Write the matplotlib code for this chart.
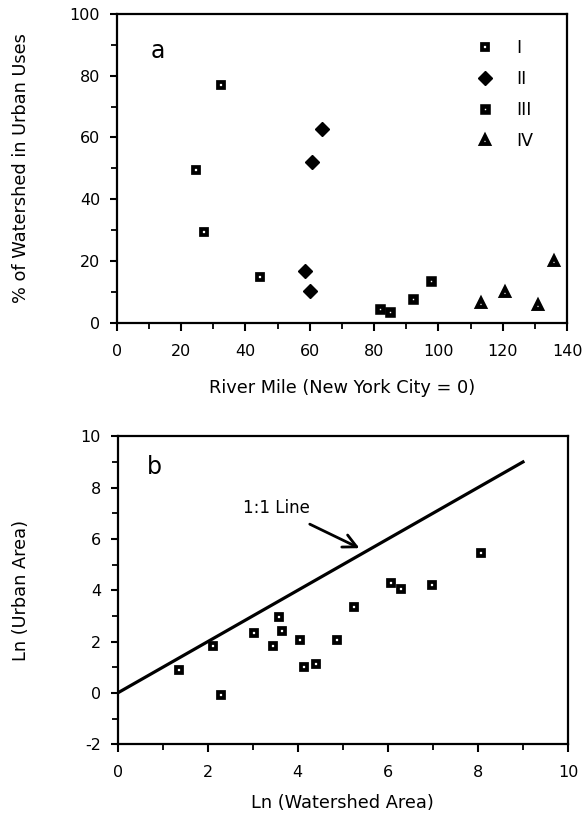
import numpy as np
import matplotlib.pyplot as plt
from matplotlib.ticker import MultipleLocator

plt.rcParams['font.family'] = ['DejaVu Sans']
plt.rcParams['axes.unicode_minus'] = False

# panel a: river mile vs % of watershed in urban uses
mile_1 = [24.6, 27.1, 32.5, 44.4]
urban_1 = [49.5, 29.3, 77.0, 14.9]
mile_2 = [58.6, 60.2, 60.6, 63.9]
urban_2 = [16.9, 10.3, 52.2, 62.6]
mile_3 = [82.0, 85.1, 92.0, 97.8]
urban_3 = [4.4, 3.6, 7.7, 13.5]
mile_4 = [113.1, 120.7, 131.0, 135.8]
urban_4 = [6.3, 9.8, 5.8, 20.0]

# panel b: ln watershed area vs ln urban area
ln_watershed = [1.37, 2.12, 2.30, 3.03, 3.44, 3.59, 3.64, 4.04, 4.14, 4.41,
                4.87, 5.25, 6.07, 6.30, 6.97, 8.07]
ln_urban = [0.89, 1.83, -0.07, 2.32, 1.83, 2.94, 2.40, 2.06, 1.02, 1.11,
            2.06, 3.35, 4.29, 4.06, 4.20, 5.46]
one_to_one = [0, 9]


def style_axes(ax):
    for s in ax.spines.values():
        s.set_linewidth(1.6)
    ax.tick_params(which='major', direction='out', length=5, width=1.5,
                   labelsize=11.5)
    ax.tick_params(which='minor', direction='out', length=4, width=1.3)
    ax.tick_params(axis='x', which='major', length=6, pad=9)
    ax.tick_params(axis='y', which='major', pad=7)


fig = plt.figure(figsize=(5.84, 8.17), dpi=100)

# ---- panel a
ax1 = fig.add_axes([0.1998, 0.605, 0.7712, 0.378])
ax1.plot(mile_1, urban_1, ls='none', marker='s', ms=4.9, mfc='white',
         mec='black', mew=2.7, label='I')
ax1.plot(mile_2, urban_2, ls='none', marker='D', ms=7, color='black',
         label='II')
ax1.plot(mile_3, urban_3, ls='none', marker='s', ms=4.5, mfc='white',
         mec='black', mew=3.3, label='III')
ax1.plot(mile_4, urban_4, ls='none', marker='^', ms=5.5, mfc='white',
         mec='black', mew=2.8, label='IV')
ax1.set_xlim(0, 140)
ax1.set_ylim(0, 100)
ax1.xaxis.set_major_locator(MultipleLocator(20))
ax1.xaxis.set_minor_locator(MultipleLocator(10))
ax1.yaxis.set_major_locator(MultipleLocator(20))
ax1.yaxis.set_minor_locator(MultipleLocator(10))
style_axes(ax1)
ax1.set_xlabel('River Mile (New York City = 0)', fontsize=12.8)
ax1.set_ylabel('% of Watershed in Urban Uses', fontsize=12.8)
ax1.xaxis.set_label_coords(0.5, -0.182)
ax1.yaxis.set_label_coords(-0.193, 0.5)
ax1.text(0.075, 0.88, 'a', transform=ax1.transAxes, fontsize=17,
         va='center', ha='left')
ax1.legend(loc='upper right', frameon=False, fontsize=12.5,
           handletextpad=1.3, labelspacing=0.75, borderaxespad=0.0,
           handlelength=1.0, bbox_to_anchor=(0.94, 0.94))

# ---- panel b
ax2 = fig.add_axes([0.2015, 0.089, 0.7711, 0.377])
ax2.plot(one_to_one, one_to_one, color='black', lw=2.3)
ax2.plot(ln_watershed, ln_urban, ls='none', marker='s', ms=4.9, mfc='white',
         mec='black', mew=2.7)
ax2.annotate('1:1 Line', xy=(5.37, 5.64), xytext=(3.53, 7.2),
             fontsize=12, ha='center', va='center',
             arrowprops=dict(arrowstyle='->', lw=2, color='black',
                             mutation_scale=24, shrinkA=7, shrinkB=0))
ax2.set_xlim(0, 10)
ax2.set_ylim(-2, 10)
ax2.xaxis.set_major_locator(MultipleLocator(2))
ax2.xaxis.set_minor_locator(MultipleLocator(1))
ax2.yaxis.set_major_locator(MultipleLocator(2))
ax2.yaxis.set_minor_locator(MultipleLocator(1))
style_axes(ax2)
ax2.set_xlabel('Ln (Watershed Area)', fontsize=12.8)
ax2.set_ylabel('Ln (Urban Area)', fontsize=12.8)
ax2.xaxis.set_label_coords(0.5, -0.161)
ax2.yaxis.set_label_coords(-0.195, 0.5)
ax2.text(0.065, 0.9, 'b', transform=ax2.transAxes, fontsize=17,
         va='center', ha='left')

fig.savefig('out.png', dpi=100)
